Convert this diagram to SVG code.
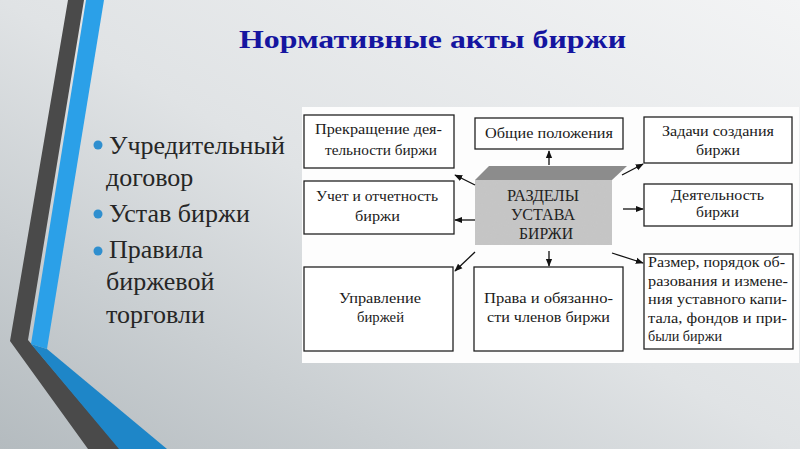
<svg xmlns="http://www.w3.org/2000/svg" width="800" height="449" viewBox="0 0 800 449">
<defs>
<linearGradient id="bg" x1="1" y1="0" x2="0" y2="1">
<stop offset="0" stop-color="#f3f4f5"/>
<stop offset="0.5" stop-color="#e0e3e5"/>
<stop offset="1" stop-color="#b4bbbf"/>
</linearGradient>
<marker id="ah" viewBox="0 0 10 10" refX="9" refY="5" markerWidth="8" markerHeight="8" markerUnits="userSpaceOnUse" orient="auto">
<path d="M0,1 L10,5 L0,9 Z" fill="#111"/>
</marker>
<filter id="speck" x="0" y="0" width="1" height="1">
<feTurbulence type="fractalNoise" baseFrequency="0.9" numOctaves="1" seed="3" result="n"/>
<feColorMatrix in="n" type="matrix" values="0 0 0 0 0.55  0 0 0 0 0.55  0 0 0 0 0.55  0 0 0 1.2 -0.35" result="d"/>
<feComposite in="d" in2="SourceGraphic" operator="in" result="dd"/>
<feMerge><feMergeNode in="SourceGraphic"/><feMergeNode in="dd"/></feMerge>
</filter>
</defs>
<style>
.box{fill:#fff;stroke:#222;stroke-width:1.3}
.t{font-family:"Liberation Serif","Times New Roman",serif;font-size:14.5px;fill:#1a1a1a}
.big{font-family:"Liberation Serif","Times New Roman",serif;font-size:16px;fill:#222}
.bul{font-family:"Liberation Serif","Times New Roman",serif;font-size:26px;fill:#262626}
.dot{fill:#2f8fcf}
.conn line{stroke:#111;stroke-width:1.3;marker-end:url(#ah)}
</style>
<rect x="0" y="0" width="800" height="449" fill="url(#bg)"/>
<!-- left decoration -->
<polygon points="68,0 84,0 28,340 120,449 88,449 10,341" fill="#4a4a4a"/>
<polygon points="86,0 104,0 47,349 31,344" fill="#2ba0e8"/>
<polygon points="31,344 47,349 167,449 119,449" fill="#1e86c8"/>
<!-- title -->
<text x="239" y="48" font-family="Liberation Serif, Times New Roman, serif" font-size="26" font-weight="bold" fill="#1515a0" textLength="387" lengthAdjust="spacingAndGlyphs">Нормативные акты биржи</text>
<!-- bullets -->
<g id="bullets">
<circle class="dot" cx="98" cy="145" r="4.5"/>
<text class="bul" x="109" y="154">Учредительный</text>
<text class="bul" x="106" y="186">договор</text>
<circle class="dot" cx="98" cy="214" r="4.5"/>
<text class="bul" x="109" y="222">Устав биржи</text>
<circle class="dot" cx="98" cy="251" r="4.5"/>
<text class="bul" x="109" y="258">Правила</text>
<text class="bul" x="106" y="290">биржевой</text>
<text class="bul" x="106" y="323">торговли</text>
</g>
<!-- diagram panel -->
<rect x="302" y="107" width="497" height="256" fill="#fdfdfd"/>
<g id="center">
<polygon points="475,180 489,166 627,166 612,180" fill="#8c8c8c"/>
<rect x="475" y="180" width="137" height="65" fill="#c6c6c6" filter="url(#speck)"/>
<text class="big" x="507" y="201" textLength="72" lengthAdjust="spacingAndGlyphs">РАЗДЕЛЫ</text>
<text class="big" x="511" y="220" textLength="64" lengthAdjust="spacingAndGlyphs">УСТАВА</text>
<text class="big" x="519" y="239" textLength="54" lengthAdjust="spacingAndGlyphs">БИРЖИ</text>
</g>
<g id="n1"><rect class="box" x="304" y="115" width="150" height="53"/>
<text class="t" x="315" y="134" textLength="127" lengthAdjust="spacingAndGlyphs">Прекращение дея-</text>
<text class="t" x="325" y="155" textLength="112" lengthAdjust="spacingAndGlyphs">тельности биржи</text></g>
<g id="n2"><rect class="box" x="475" y="118" width="148" height="31"/>
<text class="t" x="485" y="138" textLength="128" lengthAdjust="spacingAndGlyphs">Общие положения</text></g>
<g id="n3"><rect class="box" x="644" y="117" width="148" height="46"/>
<text class="t" x="662" y="136" textLength="112" lengthAdjust="spacingAndGlyphs">Задачи создания</text>
<text class="t" x="696" y="155" textLength="44" lengthAdjust="spacingAndGlyphs">биржи</text></g>
<g id="n4"><rect class="box" x="304" y="181" width="150" height="53"/>
<text class="t" x="316" y="201" textLength="122" lengthAdjust="spacingAndGlyphs">Учет и отчетность</text>
<text class="t" x="355" y="221" textLength="45" lengthAdjust="spacingAndGlyphs">биржи</text></g>
<g id="n5"><rect class="box" x="644" y="184" width="148" height="42"/>
<text class="t" x="671" y="200" font-size="14" textLength="93" lengthAdjust="spacingAndGlyphs">Деятельность</text>
<text class="t" x="696" y="217" font-size="14" textLength="43" lengthAdjust="spacingAndGlyphs">биржи</text></g>
<g id="n6"><rect class="box" x="304" y="267" width="149" height="84"/>
<text class="t" x="339" y="303" textLength="82" lengthAdjust="spacingAndGlyphs">Управление</text>
<text class="t" x="357" y="322" textLength="47" lengthAdjust="spacingAndGlyphs">биржей</text></g>
<g id="n7"><rect class="box" x="474" y="267" width="149" height="84"/>
<text class="t" x="484" y="303" textLength="129" lengthAdjust="spacingAndGlyphs">Права и обязанно-</text>
<text class="t" x="487" y="322" textLength="123" lengthAdjust="spacingAndGlyphs">сти членов биржи</text></g>
<g id="n8"><rect class="box" x="644" y="254" width="149" height="95"/>
<text class="t" x="648" y="267" textLength="137" lengthAdjust="spacingAndGlyphs">Размер, порядок об-</text>
<text class="t" x="648" y="286" textLength="140" lengthAdjust="spacingAndGlyphs">разования и измене-</text>
<text class="t" x="648" y="304" textLength="139" lengthAdjust="spacingAndGlyphs">ния уставного капи-</text>
<text class="t" x="648" y="323" textLength="139" lengthAdjust="spacingAndGlyphs">тала, фондов и при-</text>
<text class="t" x="648" y="341" textLength="74" lengthAdjust="spacingAndGlyphs">были биржи</text></g>
<g class="conn" id="connectors">
<line x1="549" y1="165" x2="549" y2="151"/>
<line x1="475" y1="185" x2="455" y2="175"/>
<line x1="475" y1="220" x2="455" y2="220"/>
<line x1="622" y1="175" x2="643" y2="164"/>
<line x1="623" y1="209" x2="643" y2="209"/>
<line x1="475" y1="252" x2="455" y2="271"/>
<line x1="549" y1="251" x2="549" y2="266"/>
<line x1="612" y1="253" x2="643" y2="263"/>
</g>
</svg>
